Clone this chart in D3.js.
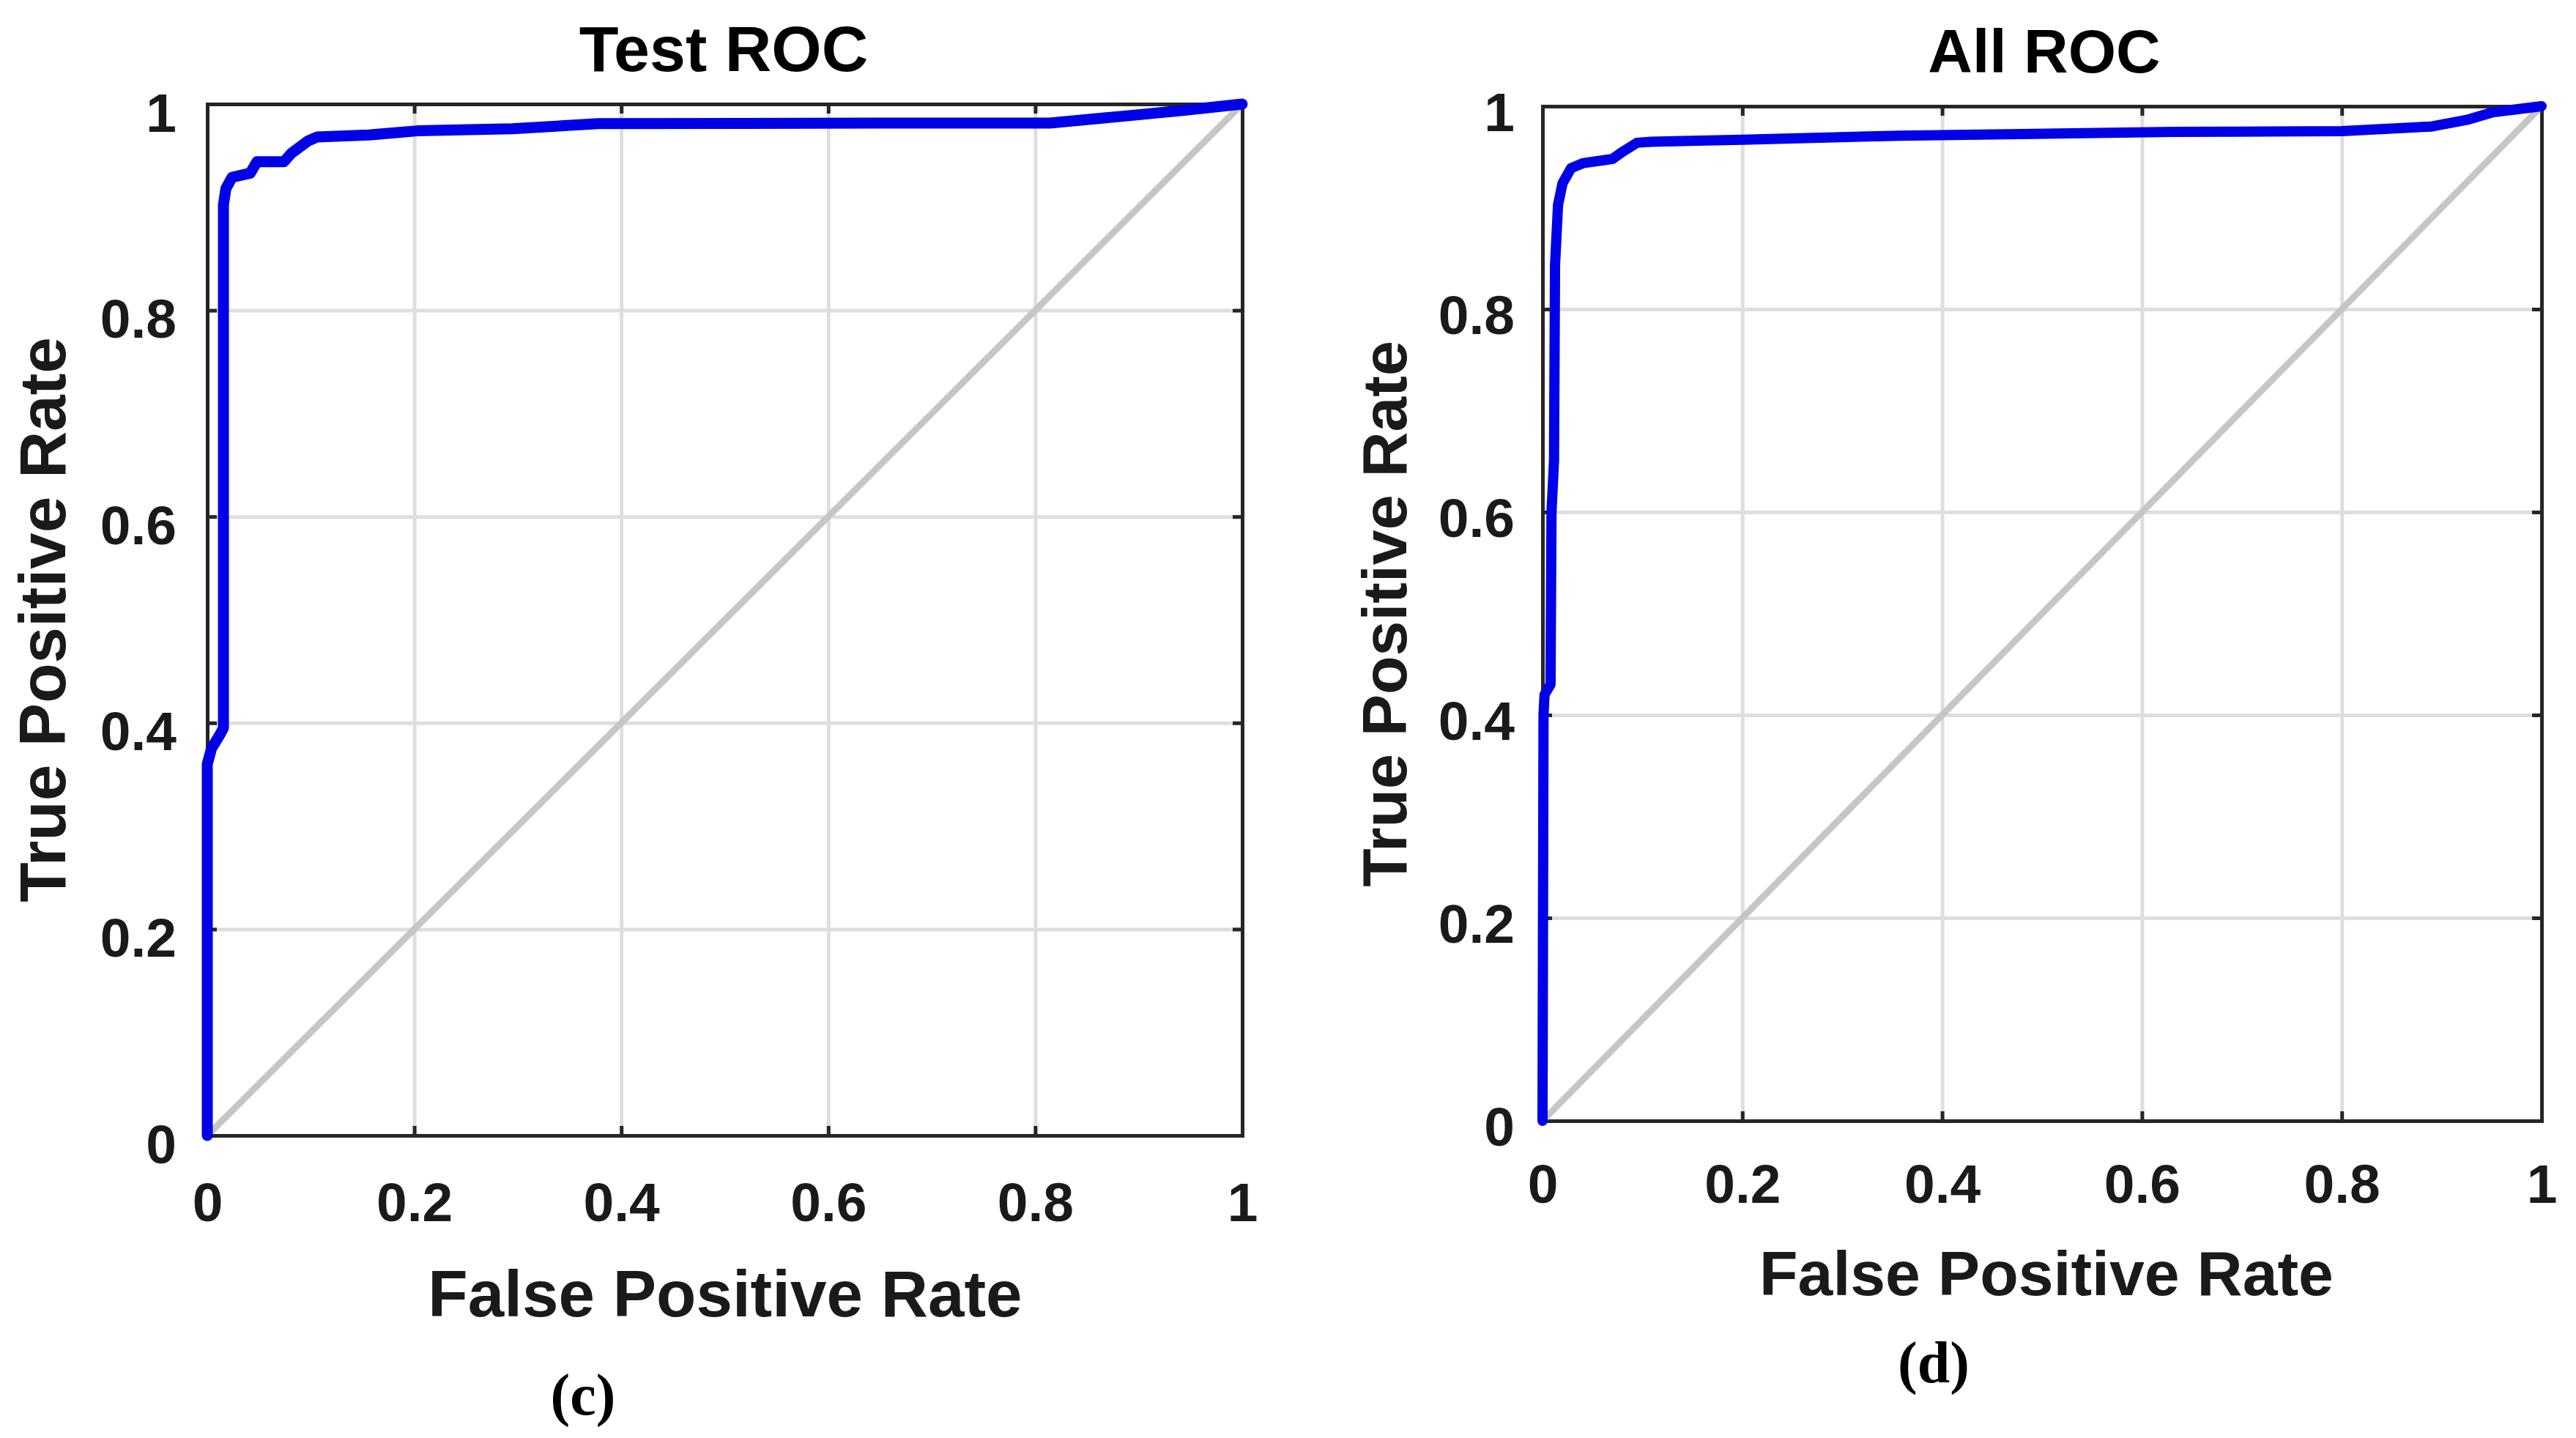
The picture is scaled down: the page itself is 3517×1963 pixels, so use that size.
<!DOCTYPE html>
<html>
<head>
<meta charset="utf-8">
<script src="https://cdn.jsdelivr.net/npm/d3@7"></script>
<style>
  html, body { margin: 0; padding: 0; background: #ffffff; }
  svg { display: block; }
</style>
</head>
<body>
<svg id="chart" width="3517" height="1963"></svg>
<script>
// ---------------- data ----------------
const tickValues = [0, 0.2, 0.4, 0.6, 0.8, 1];
const tickLabels = ["0", "0.2", "0.4", "0.6", "0.8", "1"];

const panelTitles = ["Test ROC", "All ROC"];
const panelTags = ["(c)", "(d)"];
const xAxisLabel = "False Positive Rate";
const yAxisLabel = "True Positive Rate";

// Test ROC curve
const testFPR = [0, 0, 0.004, 0.013, 0.0156, 0.0156, 0.018, 0.024, 0.0415, 0.048, 0.074, 0.081, 0.097, 0.106, 0.156, 0.203, 0.295, 0.378, 0.649, 0.814, 0.861, 0.909, 0.944, 1];
const testTPR = [0, 0.36, 0.375, 0.39, 0.395, 0.902, 0.918, 0.929, 0.933, 0.944, 0.944, 0.952, 0.964, 0.968, 0.970, 0.974, 0.976, 0.981, 0.9815, 0.9815, 0.986, 0.9905, 0.994, 1];

// All ROC curve
const allFPR = [0, 0.001, 0.002, 0.008, 0.009, 0.0115, 0.0125, 0.0155, 0.020, 0.0286, 0.041, 0.070, 0.080, 0.0946, 0.109, 0.2, 0.358, 0.633, 0.80, 0.89, 0.927, 0.951, 1];
const allTPR = [0, 0.40, 0.42, 0.43, 0.6, 0.65, 0.843, 0.9025, 0.924, 0.939, 0.944, 0.948, 0.955, 0.964, 0.965, 0.967, 0.971, 0.9747, 0.9755, 0.98, 0.987, 0.994, 1];

// chance diagonal
const diagFPR = [0, 1];
const diagTPR = [0, 1];

// ---------------- layout ----------------
const panels = [
  { left: 283, right: 1696, top: 142, bottom: 1550,
    fpr: testFPR, tpr: testTPR, title: panelTitles[0], tag: panelTags[0],
    titleSize: 88, labelSize: 89, tickSize: 75, curveWidth: 15,
    titleX: 988, titleY: 97, xLabX: 990, xLabY: 1797, yLabX: 89, yLabY: 846,
    tagX: 796, tagY: 1931, xPad: 64, yPad: 42, yDy: 37 },
  { left: 2106, right: 3470, top: 145, bottom: 1530,
    fpr: allFPR, tpr: allTPR, title: panelTitles[1], tag: panelTags[1],
    titleSize: 84, labelSize: 86, tickSize: 75, curveWidth: 14,
    titleX: 2791, titleY: 99, xLabX: 2794, xLabY: 1768, yLabX: 1920, yLabY: 838,
    tagX: 2640, tagY: 1887, xPad: 59, yPad: 38, yDy: 33 }
];

const svg = d3.select("#chart");
const sans = "'Liberation Sans', Arial, Helvetica, sans-serif";
const serif = "'Liberation Serif', 'Times New Roman', serif";
const axisColor = "#262626";

panels.forEach(p => {
  const x = d3.scaleLinear().domain([0, 1]).range([p.left, p.right]);
  const y = d3.scaleLinear().domain([0, 1]).range([p.bottom, p.top]);
  const w = p.right - p.left, h = p.bottom - p.top;
  const g = svg.append("g");

  // grid
  const gridX = g.append("g").attr("transform", `translate(0,${p.bottom})`)
    .call(d3.axisBottom(x).tickValues(tickValues.slice(1, -1)).tickSize(-h).tickFormat(""));
  const gridY = g.append("g").attr("transform", `translate(${p.left},0)`)
    .call(d3.axisLeft(y).tickValues(tickValues.slice(1, -1)).tickSize(-w).tickFormat(""));
  [gridX, gridY].forEach(a => {
    a.select(".domain").remove();
    a.selectAll("line").attr("stroke", "#dedede").attr("stroke-width", 5);
  });

  // axes (box with inward ticks)
  const fmt = d => tickLabels[tickValues.indexOf(d)];
  const axB = g.append("g").attr("transform", `translate(0,${p.bottom})`)
    .call(d3.axisBottom(x).tickValues(tickValues).tickFormat(fmt).tickSizeInner(-13).tickSizeOuter(0).tickPadding(p.xPad));
  const axT = g.append("g").attr("transform", `translate(0,${p.top})`)
    .call(d3.axisTop(x).tickValues(tickValues).tickFormat("").tickSizeInner(-13).tickSizeOuter(0));
  const axL = g.append("g").attr("transform", `translate(${p.left},0)`)
    .call(d3.axisLeft(y).tickValues(tickValues).tickFormat(fmt).tickSizeInner(-13).tickSizeOuter(0).tickPadding(p.yPad));
  const axR = g.append("g").attr("transform", `translate(${p.right},0)`)
    .call(d3.axisRight(y).tickValues(tickValues).tickFormat("").tickSizeInner(-13).tickSizeOuter(0));
  [axB, axT, axL, axR].forEach(a => {
    a.select(".domain").attr("stroke", axisColor).attr("stroke-width", 5).attr("stroke-linecap", "square");
    a.selectAll(".tick line").attr("stroke", axisColor).attr("stroke-width", 5);
    a.selectAll("text").attr("fill", "#1a1a1a")
      .style("font-family", sans).style("font-weight", "bold").style("font-size", p.tickSize + "px");
  });
  axL.selectAll("text").attr("dy", p.yDy);

  // diagonal
  const line = d3.line().x(d => x(d[0])).y(d => y(d[1]));
  g.append("path")
    .datum(diagFPR.map((v, i) => [v, diagTPR[i]]))
    .attr("d", line)
    .attr("fill", "none").attr("stroke", "#c6c6c6").attr("stroke-width", 9);

  // ROC curve
  g.append("path")
    .datum(p.fpr.map((v, i) => [v, p.tpr[i]]))
    .attr("d", line)
    .attr("fill", "none").attr("stroke", "#0000e8").attr("stroke-width", p.curveWidth)
    .attr("stroke-linejoin", "round").attr("stroke-linecap", "round");

  // title
  g.append("text").text(p.title)
    .attr("x", p.titleX).attr("y", p.titleY).attr("text-anchor", "middle")
    .style("font-family", sans).style("font-weight", "bold").style("font-size", p.titleSize + "px")
    .attr("fill", "#000");

  // axis labels
  g.append("text").text(xAxisLabel)
    .attr("x", p.xLabX).attr("y", p.xLabY).attr("text-anchor", "middle")
    .style("font-family", sans).style("font-weight", "bold").style("font-size", p.labelSize + "px")
    .attr("fill", "#1a1a1a");
  g.append("text").text(yAxisLabel)
    .attr("transform", `translate(${p.yLabX},${p.yLabY}) rotate(-90)`).attr("text-anchor", "middle")
    .style("font-family", sans).style("font-weight", "bold").style("font-size", p.labelSize + "px")
    .attr("fill", "#1a1a1a");

  // panel tag
  g.append("text").text(p.tag)
    .attr("x", p.tagX).attr("y", p.tagY).attr("text-anchor", "middle")
    .style("font-family", serif).style("font-weight", "bold").style("font-size", "80px")
    .attr("fill", "#000");
});
</script>
</body>
</html>
